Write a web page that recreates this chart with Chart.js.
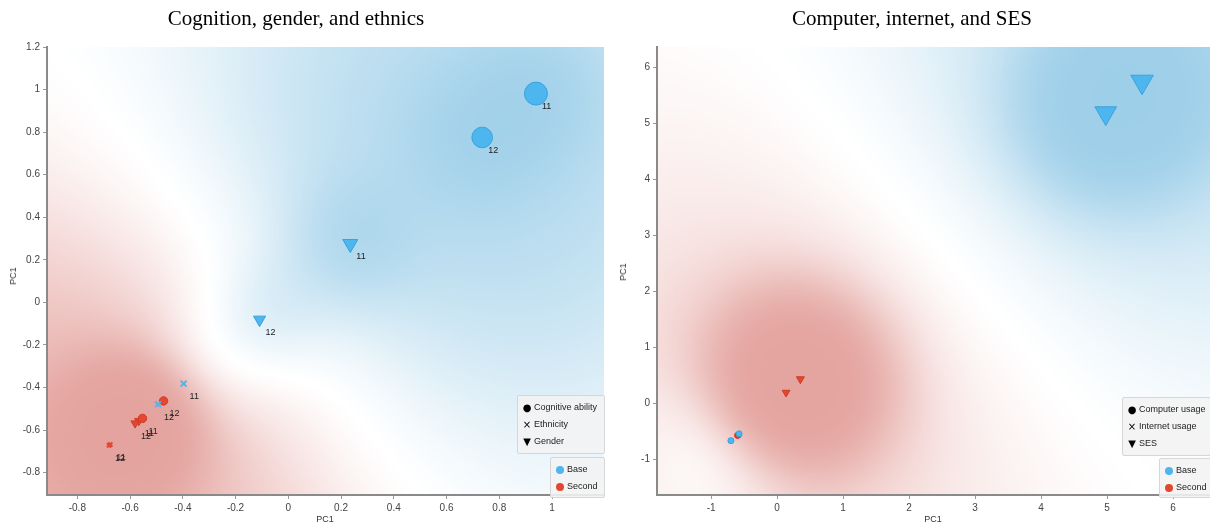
<!DOCTYPE html>
<html><head><meta charset="utf-8">
<script src="https://cdn.jsdelivr.net/npm/chart.js@4/dist/chart.umd.min.js"></script>
<style>
body{margin:0;width:1210px;height:527px;overflow:hidden;background:#fff;font-family:"Liberation Sans",Arial,sans-serif;position:relative;}
.wrap{position:absolute;top:0;width:605px;height:527px;}
canvas{position:absolute;left:0;top:0;}
.title{position:absolute;top:6px;font-family:"Liberation Serif","Times New Roman",serif;font-size:21px;color:#000;white-space:nowrap;transform:translateX(-50%);}
.axt{position:absolute;font-size:9px;color:#333;white-space:nowrap;}
.axt.v{transform:translate(-50%,-50%) rotate(-90deg);}
.axt.h{transform:translate(-50%,-50%);}
.leg{position:absolute;background:rgba(242,242,242,0.88);border:1px solid #d6d6d6;border-radius:2px;font-size:9px;color:#222;box-sizing:border-box;padding-top:3px;}
.leg .row{height:17px;line-height:17px;white-space:nowrap;position:relative;}
.leg .g{position:absolute;left:4px;top:0;width:10px;text-align:center;font-family:"DejaVu Sans",sans-serif;font-size:10px;color:#000;}
.leg .d{position:absolute;left:5px;top:5px;width:8px;height:8px;border-radius:50%;}
.leg .t{position:absolute;left:16px;top:0;}
</style></head>
<body>
<div class="wrap" style="left:0"><canvas id="c1" width="605" height="527"></canvas></div>
<div class="wrap" style="left:605px"><canvas id="c2" width="605" height="527"></canvas></div>

<div class="title" style="left:296px">Cognition, gender, and ethnics</div>
<div class="title" style="left:912px">Computer, internet, and SES</div>
<div class="axt h" style="left:325px;top:519px">PC1</div>
<div class="axt h" style="left:933px;top:519px">PC1</div>
<div class="axt v" style="left:13px;top:276px">PC1</div>
<div class="axt v" style="left:623px;top:272px">PC1</div>

<div class="leg" style="left:517px;top:395px;width:88px;height:59px">
  <div class="row"><span class="g">●</span><span class="t">Cognitive ability</span></div>
  <div class="row"><span class="g">×</span><span class="t">Ethnicity</span></div>
  <div class="row"><span class="g">▼</span><span class="t">Gender</span></div>
</div>
<div class="leg" style="left:550px;top:457px;width:55px;height:41px">
  <div class="row"><span class="d" style="background:#4db6ef"></span><span class="t">Base</span></div>
  <div class="row"><span class="d" style="background:#e4472f"></span><span class="t">Second</span></div>
</div>
<div class="leg" style="left:1122px;top:397px;width:89px;height:59px">
  <div class="row"><span class="g">●</span><span class="t">Computer usage</span></div>
  <div class="row"><span class="g">×</span><span class="t">Internet usage</span></div>
  <div class="row"><span class="g">▼</span><span class="t">SES</span></div>
</div>
<div class="leg" style="left:1159px;top:458px;width:52px;height:40px">
  <div class="row"><span class="d" style="background:#4db6ef"></span><span class="t">Base</span></div>
  <div class="row"><span class="d" style="background:#e4472f"></span><span class="t">Second</span></div>
</div>

<script>
// ---------- DATA ----------
const waveLabels = ['11', '12'];

// Left chart: Cognition, gender, and ethnics
const cogBaseX = [0.939, 0.735],   cogBaseY = [0.981, 0.775];
const cogSecondX = [-0.553, -0.473], cogSecondY = [-0.545, -0.463];
const ethBaseX = [-0.397, -0.494], ethBaseY = [-0.382, -0.479];
const ethSecondX = [-0.675, -0.680], ethSecondY = [-0.668, -0.672];
const genBaseX = [0.235, -0.109],  genBaseY = [0.275, -0.081];
const genSecondX = [-0.567, -0.581], genSecondY = [-0.557, -0.568];

// Right chart: Computer, internet, and SES
const compBaseX = [-0.70, -0.576], compBaseY = [-0.67, -0.548];
const compSecondX = [-0.60, -0.585], compSecondY = [-0.577, -0.565];
const netBaseX = [-0.69, -0.58],  netBaseY = [-0.66, -0.55];
const netSecondX = [-0.60, -0.59], netSecondY = [-0.575, -0.57];
const sesBaseX = [4.98, 5.53],    sesBaseY = [5.18, 5.74];
const sesSecondX = [0.136, 0.353], sesSecondY = [0.19, 0.43];

const xTicksLeft = [-0.8, -0.6, -0.4, -0.2, 0, 0.2, 0.4, 0.6, 0.8, 1];
const yTicksLeft = [-0.8, -0.6, -0.4, -0.2, 0, 0.2, 0.4, 0.6, 0.8, 1, 1.2];
const xTicksRight = [-1, 0, 1, 2, 3, 4, 5, 6];
const yTicksRight = [-1, 0, 1, 2, 3, 4, 5, 6];

// ---------- STYLE ----------
const BLUE = '#4db6ef', BLUE_B = '#3aa2dc';
const RED = '#e4472f', RED_B = '#cf3b25';

function pts(xs, ys) { return xs.map((x, i) => ({x, y: ys[i]})); }

function ds(xs, ys, group, style, radius, extra) {
  const base = group === 'base';
  const o = {
    data: pts(xs, ys), group,
    backgroundColor: base ? BLUE : RED,
    borderColor: base ? BLUE_B : RED_B,
    borderWidth: 1,
    pointStyle: style,
    pointRadius: radius,
    pointHoverRadius: radius,
    rotation: style === 'triangle' ? 180 : 0,
    showLine: false
  };
  if (style === 'crossRot') { o.borderColor = base ? BLUE : RED; o.borderWidth = 2; }
  return Object.assign(o, extra || {});
}

const heatPlugin = {
  id: 'heat',
  beforeDraw(chart, args, opts) {
    const a = chart.chartArea, ctx = chart.ctx;
    const P = [];
    chart.data.datasets.forEach((d, i) => {
      const w = d.heatWeight === undefined ? 1 : d.heatWeight;
      if (!w) return;
      const s = d.group === 'base' ? 1 : -1;
      chart.getDatasetMeta(i).data.forEach(el => P.push([el.x, el.y, s * w]));
    });
    const step = 2;
    const W = Math.ceil((a.right - a.left) / step), H = Math.ceil((a.bottom - a.top) / step);
    const off = document.createElement('canvas'); off.width = W; off.height = H;
    const oc = off.getContext('2d'); const img = oc.createImageData(W, H);
    const k1 = 1 / (2 * opts.s1 * opts.s1), k2 = 1 / (2 * opts.s2 * opts.s2);
    for (let j = 0; j < H; j++) {
      const py = a.top + (j + 0.5) * step;
      for (let i = 0; i < W; i++) {
        const px = a.left + (i + 0.5) * step;
        let v = 0;
        for (const p of P) {
          const dx = px - p[0], dy = py - p[1], d2 = dx * dx + dy * dy;
          v += p[2] * (opts.a1 * Math.exp(-d2 * k1) + opts.a2 * Math.exp(-d2 * k2));
        }
        const t = Math.tanh(Math.pow(Math.abs(v) / opts.scale, opts.gamma));
        const c = v > 0 ? opts.blue : opts.red;
        const idx = (j * W + i) * 4;
        img.data[idx] = 255 + (c[0] - 255) * t;
        img.data[idx + 1] = 255 + (c[1] - 255) * t;
        img.data[idx + 2] = 255 + (c[2] - 255) * t;
        img.data[idx + 3] = 255;
      }
    }
    oc.putImageData(img, 0, 0);
    ctx.save();
    ctx.imageSmoothingEnabled = true;
    ctx.drawImage(off, a.left, a.top, a.right - a.left, a.bottom - a.top);
    ctx.restore();
  }
};

const labelPlugin = {
  id: 'ptlabels',
  afterDatasetsDraw(chart) {
    const ctx = chart.ctx;
    ctx.save();
    ctx.font = '9px "Liberation Sans", Arial, sans-serif';
    ctx.fillStyle = '#222';
    ctx.textAlign = 'left';
    ctx.textBaseline = 'middle';
    chart.data.datasets.forEach((d, i) => {
      if (!d.pointLabels) return;
      chart.getDatasetMeta(i).data.forEach((el, j) => {
        ctx.fillText(d.pointLabels[j], el.x + 6, el.y + 13);
      });
    });
    ctx.restore();
  }
};

function axis(min, max, tickVals, isX, size) {
  return {
    type: 'linear', min, max,
    afterBuildTicks(s) { s.ticks = tickVals.map(v => ({value: v})); },
    ticks: {
      font: {family: '"Liberation Sans", Arial, sans-serif', size: 10},
      color: '#444', padding: 3,
      callback: v => String(Math.round(v * 10) / 10)
    },
    grid: {drawOnChartArea: false, tickLength: 4, color: '#999'},
    border: {color: '#8a8a8a', width: 2},
    afterFit(s) {
      if (isX) s.height = size; else s.width = size;
      s.paddingLeft = 0; s.paddingRight = 0; s.paddingTop = 0; s.paddingBottom = 0;
    }
  };
}

function makeChart(id, datasets, xs, ys, pad, heat) {
  return new Chart(document.getElementById(id), {
    type: 'scatter',
    data: {datasets},
    options: {
      responsive: false, animation: false, devicePixelRatio: 1,
      layout: {padding: pad, autoPadding: false},
      plugins: {legend: {display: false}, tooltip: {enabled: false}, heat},
      scales: {x: xs, y: ys}
    },
    plugins: [heatPlugin, labelPlugin]
  });
}

makeChart('c1', [
  ds(cogBaseX, cogBaseY, 'base', 'circle', [11.5, 10.3], {pointLabels: waveLabels}),
  ds(genBaseX, genBaseY, 'base', 'triangle', [8.7, 7], {pointLabels: waveLabels}),
  ds(ethBaseX, ethBaseY, 'base', 'crossRot', [4.2, 4], {pointLabels: waveLabels}),
  ds(cogSecondX, cogSecondY, 'second', 'circle', [4.2, 4.2], {pointLabels: waveLabels}),
  ds(genSecondX, genSecondY, 'second', 'triangle', [4.8, 4.8], {pointLabels: waveLabels}),
  ds(ethSecondX, ethSecondY, 'second', 'crossRot', [3, 3], {pointLabels: waveLabels})
],
  axis(-0.915, 1.197, xTicksLeft, true, 32),
  axis(-0.905, 1.2, yTicksLeft, false, 47),
  {top: 47, left: 0, right: 1, bottom: 0},
  {a1: 1.0, s1: 45, a2: 0.85, s2: 220, scale: 2.3, gamma: 1.3, blue: [158, 207, 233], red: [228, 163, 158]}
);

makeChart('c2', [
  ds(compBaseX, compBaseY, 'base', 'circle', [3, 3], {heatWeight: 1.0}),
  ds(compSecondX, compSecondY, 'second', 'circle', [3, 3], {heatWeight: 0.5}),
  ds(netBaseX, netBaseY, 'base', 'crossRot', [2.5, 2.5], {heatWeight: 0}),
  ds(netSecondX, netSecondY, 'second', 'crossRot', [2.5, 2.5], {heatWeight: 0}),
  ds(sesBaseX, sesBaseY, 'base', 'triangle', [12.5, 13], {heatWeight: 1.4}),
  ds(sesSecondX, sesSecondY, 'second', 'triangle', [4.5, 4.6], {heatWeight: 1.5})
],
  axis(-1.82, 6.56, xTicksRight, true, 32),
  axis(-1.64, 6.36, yTicksRight, false, 52),
  {top: 47, left: 0, right: 0, bottom: 0},
  {a1: 1.5, s1: 60, a2: 0.7, s2: 220, scale: 2.2, gamma: 1.3, blue: [158, 207, 233], red: [228, 163, 158]}
);
</script>
</body></html>
